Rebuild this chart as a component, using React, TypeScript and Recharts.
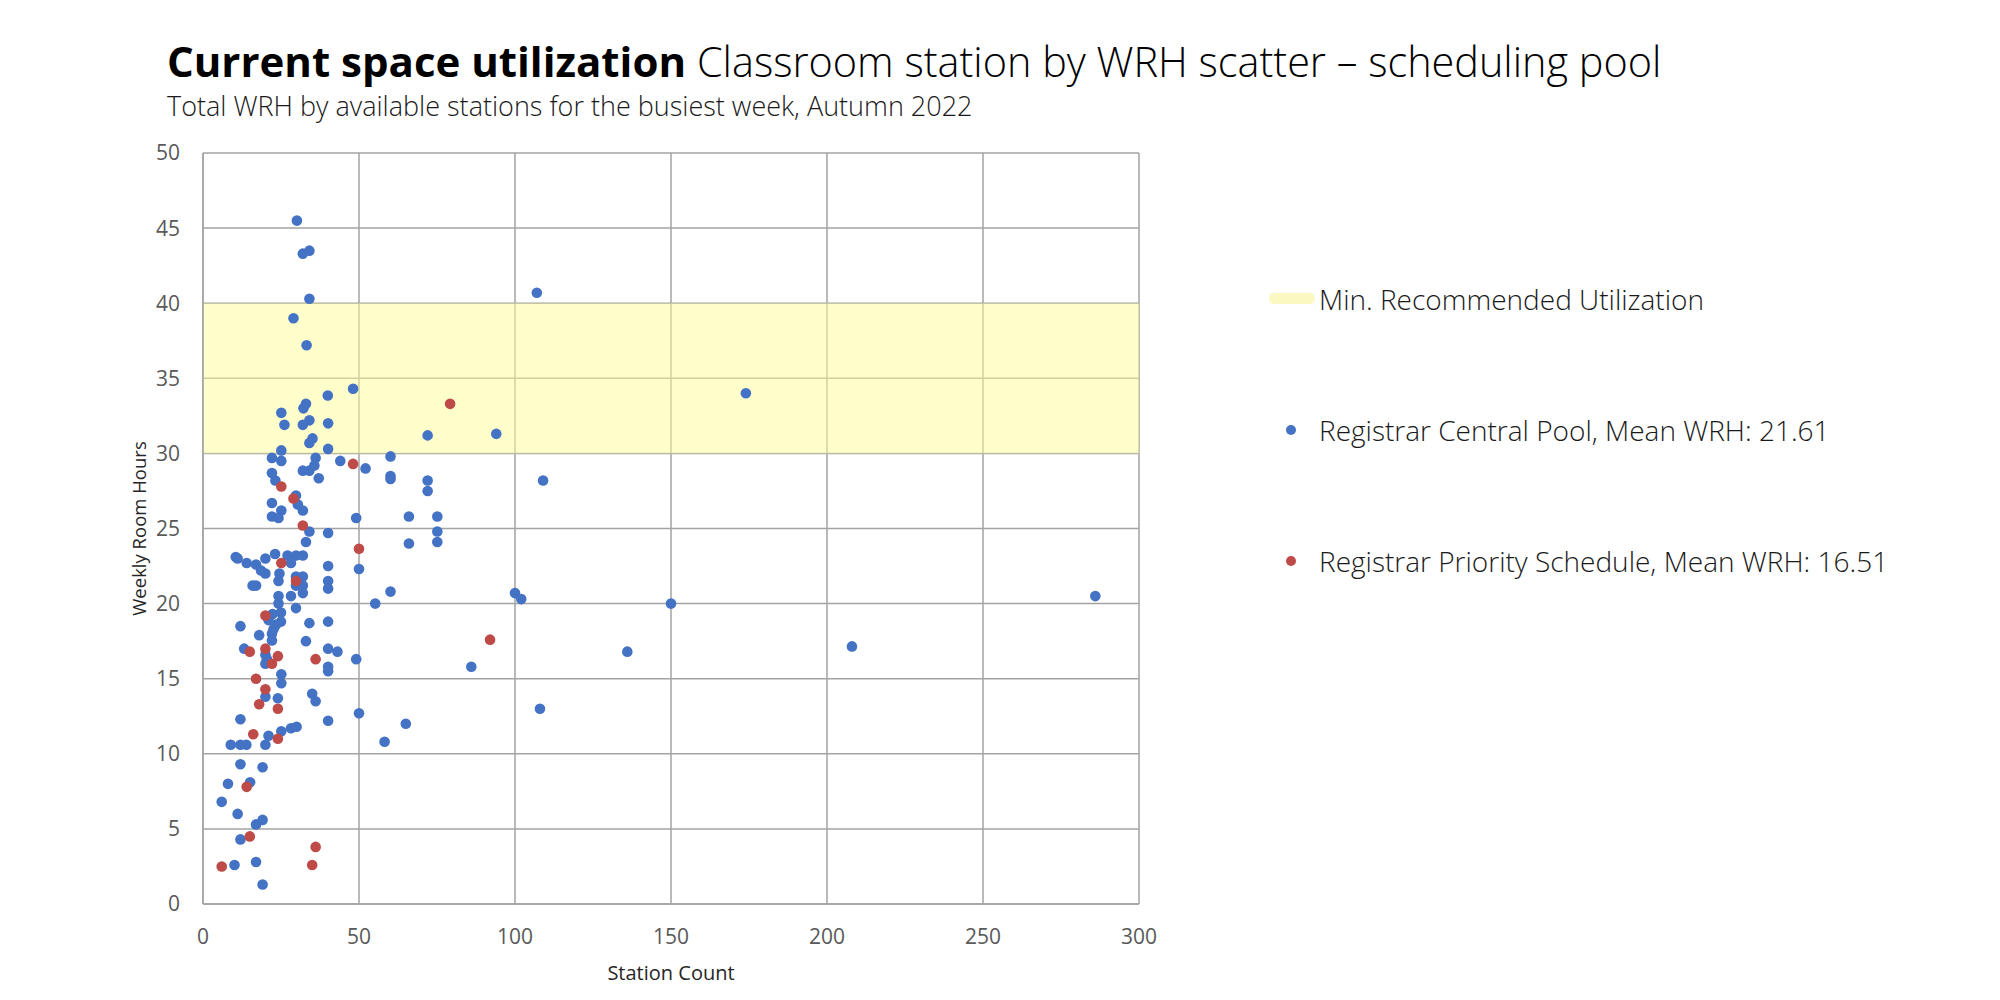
import React from "react";
import {
  ScatterChart,
  Scatter,
  XAxis,
  YAxis,
  CartesianGrid,
  ReferenceArea,
  Label,
} from "recharts";

// Registrar Central Pool: station count / weekly room hours
const centralStations = [
  30.1, 32.0, 34.1, 34.1, 29.0, 33.2, 107, 174,
  48.1, 40.0, 33.0, 32.2, 25.1, 26.1, 34.1, 32.0, 40.1, 35.1, 34.1, 40.1, 72.0, 94, 25.1,
  22.1, 25.1, 36.1, 35.7, 44.0, 32.0, 34.1, 37.1, 52.1, 60.1, 60.1, 60.1, 72.0, 72.0, 109,
  22.1, 23.2, 29.8, 30.4, 22.1, 25.1, 22.1, 24.2, 32.0, 49.1, 66.0, 75.1,
  34.1, 40.1, 33.0, 75.1, 75.1, 66.0,
  10.5, 11.1, 14.0, 17.0, 18.6, 20.0, 23.1, 20.0, 27.1, 29.8, 32.0, 28.2, 40.1, 50.0,
  24.5, 24.2, 15.9, 17.0, 29.8, 32.0, 29.8, 32.0, 32.0, 40.1, 40.1, 60.1, 55.2, 24.2, 28.2, 24.2, 29.8,
  100, 102, 150, 286,
  22.3, 25.0, 12.0, 25.0, 23.4, 34.1, 40.1, 18.0, 22.1, 22.1, 33.0, 13.2, 20.0, 20.0, 40.1, 43.1,
  49.1, 40.1, 40.1, 25.1, 25.1, 86, 136, 208, 21.0, 22.6, 20.5,
  20.0, 24.0, 35.0, 36.1, 108, 12.0, 40.1, 50.0, 65.0, 58.2, 21.0, 25.1, 28.2, 30.0,
  8.9, 12.0, 13.9, 20.0, 12.0, 19.1, 8.0, 15.1, 6.0, 11.1, 17.0, 19.1, 12.0, 10.1, 17.0, 19.1,
];
const centralHours = [
  45.5, 43.3, 43.5, 40.3, 39.0, 37.2, 40.7, 34.0,
  34.3, 33.85, 33.3, 33.0, 32.7, 31.9, 32.2, 31.9, 32.0, 31.0, 30.7, 30.3, 31.2, 31.3, 30.2,
  29.7, 29.5, 29.7, 29.2, 29.5, 28.85, 28.85, 28.35, 29.0, 29.8, 28.5, 28.3, 28.2, 27.5, 28.2,
  28.7, 28.2, 27.2, 26.6, 26.7, 26.2, 25.8, 25.7, 26.2, 25.7, 25.8, 25.8,
  24.8, 24.7, 24.1, 24.8, 24.1, 24.0,
  23.1, 23.0, 22.7, 22.6, 22.2, 22.0, 23.3, 23.0, 23.2, 23.2, 23.2, 22.7, 22.5, 22.3,
  22.0, 21.5, 21.2, 21.2, 21.8, 21.8, 21.2, 21.2, 20.7, 21.5, 21.0, 20.8, 20.0, 20.5, 20.5, 20.0, 19.7,
  20.7, 20.3, 20.0, 20.5,
  19.3, 19.4, 18.5, 18.8, 18.6, 18.7, 18.8, 17.9, 18.0, 17.55, 17.5, 17.0, 16.6, 16.0, 17.0, 16.8,
  16.3, 15.8, 15.5, 15.3, 14.7, 15.8, 16.8, 17.15, 18.9, 18.3, 16.3,
  13.8, 13.7, 14.0, 13.5, 13.0, 12.3, 12.2, 12.7, 12.0, 10.8, 11.2, 11.5, 11.7, 11.8,
  10.6, 10.6, 10.6, 10.6, 9.3, 9.1, 8.0, 8.1, 6.8, 6.0, 5.3, 5.6, 4.3, 2.6, 2.8, 1.3,
];

// Registrar Priority Schedule
const priorityStations = [
  79.2, 48.1, 25.1, 29.0, 32.0, 50.0, 25.1, 29.8, 92,
  20.0, 15.0, 20.0, 24.0, 22.1, 36.1, 17.0, 20.0, 18.0, 24.0, 16.1, 24.0, 14.0, 15.0, 36.1, 35.0, 6.0,
];
const priorityHours = [
  33.3, 29.3, 27.8, 27.0, 25.2, 23.65, 22.7, 21.5, 17.6,
  19.2, 16.8, 17.0, 16.5, 16.0, 16.3, 15.0, 14.3, 13.3, 13.0, 11.3, 11.0, 7.8, 4.5, 3.8, 2.6, 2.5,
];

const xTicks = [0, 50, 100, 150, 200, 250, 300];
const yTicks = [0, 5, 10, 15, 20, 25, 30, 35, 40, 45, 50];
const bandRange = [30, 40];

const BLUE = "#4472C4";
const RED = "#BE4B48";
const GRID = "#A3A3A3";
const FONT = "'Open Sans', 'Noto Sans', sans-serif";

const centralData = centralStations.map((x, i) => ({ x, y: centralHours[i] }));
const priorityData = priorityStations.map((x, i) => ({ x, y: priorityHours[i] }));

const legendItems = [
  { label: "Min. Recommended Utilization", kind: "band", color: "#FBF8C2" },
  { label: "Registrar Central Pool, Mean WRH: 21.61", kind: "dot", color: BLUE },
  { label: "Registrar Priority Schedule, Mean WRH: 16.51", kind: "dot", color: RED },
];

const dot = (color: string) => (props: any) => (
  <circle cx={props.cx} cy={props.cy} r={5.3} fill={color} />
);

function LegendBox() {
  return (
    <div
      style={{
        position: "absolute",
        left: 1262,
        top: 233,
        fontFamily: FONT,
        fontWeight: 300,
        fontSize: 28,
        color: "#1a1a1a",
      }}
    >
      {legendItems.map((it) => (
        <div key={it.label} style={{ height: 131, display: "flex", alignItems: "center" }}>
          <div style={{ width: 57, display: "flex", justifyContent: "center" }}>
            {it.kind === "band" ? (
              <div style={{ width: 46, height: 11, background: it.color, borderRadius: 5, marginLeft: 3 }} />
            ) : (
              <div style={{ width: 10, height: 10, borderRadius: 5, background: it.color }} />
            )}
          </div>
          <span style={{ whiteSpace: "nowrap" }}>{it.label}</span>
        </div>
      ))}
    </div>
  );
}

export default function App() {
  return (
    <div style={{ position: "absolute", left: 0, top: 0, width: 2000, height: 1000, background: "#fff" }}>
      <div
        style={{
          position: "absolute",
          left: 167,
          top: 33,
          fontFamily: FONT,
          fontSize: 42,
          lineHeight: "56px",
          color: "#000",
          whiteSpace: "nowrap",
        }}
      >
        <span style={{ fontWeight: 700 }}>Current space utilization</span>{" "}
        <span style={{ fontWeight: 300, fontSize: 41.4 }}>Classroom station by WRH scatter – scheduling pool</span>
      </div>
      <div
        style={{
          position: "absolute",
          left: 167,
          top: 88,
          fontFamily: FONT,
          fontSize: 27,
          fontWeight: 300,
          lineHeight: "36px",
          color: "#1a1a1a",
          whiteSpace: "nowrap",
        }}
      >
        Total WRH by available stations for the busiest week, Autumn 2022
      </div>

      <ScatterChart
        width={2000}
        height={1000}
        margin={{ top: 153, right: 861, bottom: 36, left: 143 }}
        style={{ position: "absolute", left: 0, top: 0 }}
      >
        <CartesianGrid stroke={GRID} strokeWidth={1.5} horizontalValues={yTicks} verticalValues={xTicks} />
        <ReferenceArea
          y1={bandRange[0]}
          y2={bandRange[1]}
          x1={0}
          x2={300}
          fill="#FFFF99"
          fillOpacity={0.5}
          stroke="none"
          ifOverflow="hidden"
        />
        <XAxis
          type="number"
          dataKey="x"
          domain={[0, 300]}
          ticks={xTicks}
          interval={0}
          height={60}
          tickSize={0}
          tickMargin={25}
          axisLine={{ stroke: GRID, strokeWidth: 1.5 }}
          tick={{ fill: "#595959", fontSize: 21, fontFamily: FONT }}
        >
          <Label
            value="Station Count"
            position="insideBottom"
            offset={-16}
            style={{ fill: "#262626", fontSize: 20, fontFamily: FONT }}
          />
        </XAxis>
        <YAxis
          type="number"
          dataKey="y"
          domain={[0, 50]}
          ticks={yTicks}
          interval={0}
          width={60}
          tickSize={0}
          tickMargin={23}
          axisLine={{ stroke: GRID, strokeWidth: 1.5 }}
          tick={{ fill: "#595959", fontSize: 21, fontFamily: FONT }}
        >
          <Label
            value="Weekly Room Hours"
            angle={-90}
            position="insideLeft"
            offset={-4}
            style={{ fill: "#262626", fontSize: 18.5, fontFamily: FONT, textAnchor: "middle" }}
          />
        </YAxis>
        <Scatter
          name="Registrar Central Pool, Mean WRH: 21.61"
          data={centralData}
          fill={BLUE}
          shape={dot(BLUE)}
          isAnimationActive={false}
        />
        <Scatter
          name="Registrar Priority Schedule, Mean WRH: 16.51"
          data={priorityData}
          fill={RED}
          shape={dot(RED)}
          isAnimationActive={false}
        />
      </ScatterChart>
      <LegendBox />
    </div>
  );
}
